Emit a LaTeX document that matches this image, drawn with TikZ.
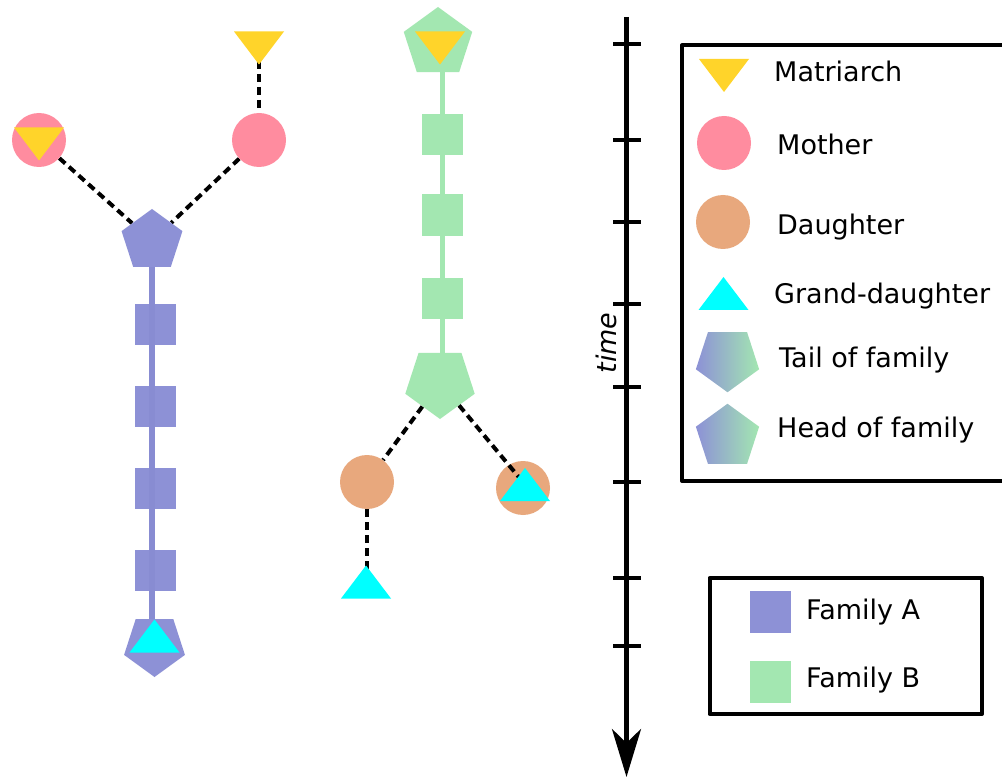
\documentclass[tikz,border=0pt]{standalone}
\usepackage{fontspec}
\setmainfont{DejaVu Sans}
\usetikzlibrary{shapes.geometric,arrows.meta,backgrounds}
\definecolor{famA}{HTML}{8D91D6}
\definecolor{famAline}{HTML}{888CD2}
\definecolor{famB}{HTML}{A3E7B1}
\definecolor{mother}{HTML}{FF8C9F}
\definecolor{daughter}{HTML}{E8A87D}
\definecolor{matri}{HTML}{FFD42A}
\definecolor{grand}{HTML}{00FFFF}
\tikzset{
  circ/.style={circle,minimum size=54pt,inner sep=0pt,draw=none},
  sq/.style={rectangle,minimum size=41.5pt,inner sep=0pt,draw=none},
  penta/.style={regular polygon,regular polygon sides=5,minimum size=64pt,inner sep=0pt,draw=none},
  pentadown/.style={penta,shape border rotate=180},
  dashlink/.style={line width=4pt,dash pattern=on 8pt off 5pt,black},
  famline/.style={line width=5.5pt},
  tick/.style={line width=4pt},
  box/.style={line width=4pt,line join=round},
  lab/.style={anchor=base west,inner sep=0pt,font=\fontsize{27}{31}\selectfont},
  tridown/.pic={\fill[matri] (-25,-16.5) -- (25,-16.5) -- (0,16.5) -- cycle;},
  triup/.pic={\fill[grand] (-25,16.5) -- (25,16.5) -- (0,-16.5) -- cycle;},
}
\begin{document}
\begin{tikzpicture}[x=1pt,y=-1pt]
\clip (0,0) rectangle (1002,778);

% ---------- Family A ----------
\coordinate (matA) at (259,48);
\node[circ,fill=mother] (momR) at (259,140) {};
\node[circ,fill=mother] (momL) at (39,140) {};
\node[penta,fill=famA] (headA) at (152,241) {};
\node[sq,fill=famA] (a1) at (155.5,324.5) {};
\node[sq,fill=famA] (a2) at (155.5,406.5) {};
\node[sq,fill=famA] (a3) at (155.5,488.5) {};
\node[sq,fill=famA] (a4) at (155.5,570.5) {};
\node[pentadown,fill=famA] (tailA) at (154.5,645) {};
\coordinate (gA) at (154.5,636);
\draw[famline,famAline] (headA.south) -- (headA.south |- tailA.north);
\pic at (matA) {tridown};
\pic at (39,144) {tridown};
\pic at (gA) {triup};

% ---------- Family B ----------
\node[penta,minimum size=72pt,fill=famB] (headB) at (438,43) {};
\node[sq,fill=famB] (b1) at (442.5,134.5) {};
\node[sq,fill=famB] (b2) at (442.5,215) {};
\node[sq,fill=famB] (b3) at (442.5,298.5) {};
\node[pentadown,minimum size=73pt,fill=famB] (tailB) at (440,382.5) {};
\node[circ,fill=daughter] (dauL) at (367,482) {};
\node[circ,fill=daughter] (dauR) at (523,488) {};
\coordinate (gR) at (525,484.5);
\coordinate (gL) at (366,582);
\draw[dashlink] (tailB) -- (gR);
\pic at (440,48) {tridown};
\pic at (gR) {triup};
\pic at (gL) {triup};

% ---------- connectors behind the shapes ----------
\begin{scope}[on background layer]
  \fill[white] (0,0) rectangle (1002,778);
  \draw[dashlink] (momL) -- (headA);
  \draw[dashlink] (momR) -- (headA);
  \draw[dashlink] (matA) -- (momR);
  \draw[famline,famB] (442.5,43) -- (442.5,382.5);
  \draw[dashlink] (tailB) -- (dauL);
  \draw[dashlink] (dauL) -- (dauL |- gL);
\end{scope}

% ---------- time axis ----------
\coordinate (tTop) at (626.5,17);
\coordinate (tEnd) at (626.5,777);
\draw[line width=4.5pt,-{Stealth[length=48pt,width=29pt,inset=14pt]}] (tTop) -- (tEnd);
\foreach \y in {44,140,222,304,387,482,578,646}
  \draw[tick] (613,\y) -- (641,\y);
\node[rotate=90,inner sep=0pt,font=\fontsize{27}{31}\selectfont\itshape] (timelab) at (606,343) {time};

% ---------- legend 1 ----------
\draw[box] (682,45.5) rectangle (1030,481);
\pic at (724,75.5) {tridown};
\node[lab] (lmat) at (774,82) {Matriarch};
\node[circ,fill=mother] (lmom) at (724,143) {};
\node[lab] (lmot) at (777,155) {Mother};
\node[circ,fill=daughter] (ldau) at (723,222) {};
\node[lab] (ldt) at (777,235) {Daughter};
\pic at (723.5,293.5) {triup};
\node[lab] (lgd) at (774,304) {Grand-daughter};
\node[pentadown,minimum size=66pt] (ltail) at (727.5,359) {};
\shade[left color=famA,right color=famB] (ltail.corner 1) -- (ltail.corner 2) -- (ltail.corner 3) -- (ltail.corner 4) -- (ltail.corner 5) -- cycle;
\node[lab] (ltl) at (779,367) {Tail of family};
\node[penta,minimum size=66pt] (lhead) at (727.5,437) {};
\shade[left color=famA,right color=famB] (lhead.corner 1) -- (lhead.corner 2) -- (lhead.corner 3) -- (lhead.corner 4) -- (lhead.corner 5) -- cycle;
\node[lab] (lhd) at (777,437) {Head of family};

% ---------- legend 2 ----------
\draw[box] (709.5,578) rectangle (982,714);
\node[sq,fill=famA] (lA) at (770.5,612) {};
\node[lab] (lAt) at (806,619) {Family A};
\node[sq,fill=famB] (lB) at (770.5,682) {};
\node[lab] (lBt) at (806,687) {Family B};
\end{tikzpicture}
\end{document}
